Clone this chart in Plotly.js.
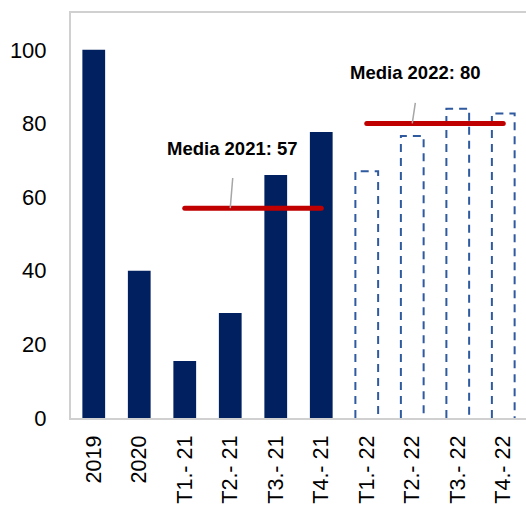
<!DOCTYPE html>
<html>
<head>
<meta charset="utf-8">
<script src="https://cdn.plot.ly/plotly-3.0.1.min.js"></script>
<style>
html,body{margin:0;padding:0;background:#fff;}
#chart{width:526px;height:506px;}
</style>
</head>
<body>
<div id="chart"></div>
<script>
// ---- data ----
const categories = ['2019', '2020', 'T1.- 21', 'T2.- 21', 'T3.- 21', 'T4.- 21', 'T1.- 22', 'T2.- 22', 'T3.- 22', 'T4.- 22'];
const actualCats = ['2019', '2020', 'T1.- 21', 'T2.- 21', 'T3.- 21', 'T4.- 21'];
const actualValues = [100, 40, 15.5, 28.5, 66, 77.7];
const forecastCats = ['T1.- 22', 'T2.- 22', 'T3.- 22', 'T4.- 22'];
const forecastValues = [67, 76.6, 84, 82.7];
const avgLabels = ['Media 2021: 57', 'Media 2022: 80'];
const avgValues = [57, 80];
const avgStart = ['T1.- 21', 'T1.- 22'];
const avgEnd = ['T4.- 21', 'T4.- 22'];
const avgPointer = ['T2.- 21', 'T2.- 22'];
const yTicks = [0, 20, 40, 60, 80, 100];

// ---- style ----
const NAVY = '#002060';
const DASHBLUE = '#2f5aa0';
const RED = '#c00000';
const BAR_W = 0.5;
const FONT = 'Liberation Sans, Arial, sans-serif';
const idx = c => categories.indexOf(c);

const traces = [];
traces.push({
  type: 'bar',
  x: actualCats.map(idx),
  y: actualValues,
  width: BAR_W,
  marker: {color: NAVY, line: {width: 0}},
  hoverinfo: 'skip'
});
forecastCats.forEach((c, k) => {
  const i = idx(c), v = forecastValues[k];
  traces.push({
    type: 'scatter', mode: 'lines',
    x: [i - BAR_W / 2, i - BAR_W / 2, i + BAR_W / 2, i + BAR_W / 2],
    y: [0, v, v, 0],
    line: {color: DASHBLUE, width: 2, dash: '8px,6px'},
    hoverinfo: 'skip'
  });
});
const avgTraceStart = traces.length;
avgValues.forEach((v, k) => {
  traces.push({
    type: 'scatter', mode: 'lines',
    x: [idx(avgStart[k]), idx(avgEnd[k])],
    y: [v, v],
    line: {color: RED, width: 5},
    hoverinfo: 'skip'
  });
});

const leaderOffsets = [[2.6, -31.7], [3.3, -22]];
const textOffsets = [[2.3, 60], [3.3, 51]];
const annotations = [];
avgValues.forEach((v, k) => {
  annotations.push({
    x: idx(avgPointer[k]), y: v, xref: 'x', yref: 'y',
    text: '', showarrow: true, arrowhead: 0, arrowwidth: 1.5, arrowcolor: '#a6a6a6',
    ax: leaderOffsets[k][0], ay: leaderOffsets[k][1], standoff: 0
  });
  annotations.push({
    x: idx(avgPointer[k]), y: v, xref: 'x', yref: 'y',
    text: '<b>' + avgLabels[k] + '</b>', showarrow: false,
    xshift: textOffsets[k][0], yshift: textOffsets[k][1],
    font: {family: FONT, size: 18.5, color: '#000'}
  });
});

const layout = {
  width: 526, height: 506,
  margin: {l: 71, r: 0, t: 13, b: 88},
  paper_bgcolor: '#fff', plot_bgcolor: '#fff',
  showlegend: false,
  font: {family: FONT, color: '#000'},
  xaxis: {
    type: 'linear', range: [-0.5, 9.5],
    tickvals: categories.map((c, i) => i), ticktext: categories,
    tickangle: -90, tickfont: {family: FONT, size: 21.5, color: '#000'},
    ticks: 'outside', ticklen: 7, tickcolor: 'rgba(0,0,0,0)',
    showline: true, linecolor: '#d0d0d0', linewidth: 2, mirror: true,
    showgrid: false, zeroline: false, fixedrange: true
  },
  yaxis: {
    range: [0, 110], tickvals: yTicks,
    tickfont: {family: FONT, size: 22, color: '#000'},
    ticks: 'outside', ticklen: 18, tickcolor: 'rgba(0,0,0,0)',
    showline: true, linecolor: '#d0d0d0', linewidth: 2,
    showgrid: false, zeroline: false, fixedrange: true
  },
  annotations: annotations
};

Plotly.newPlot('chart', traces, layout, {displayModeBar: false, staticPlot: true}).then(() => {
  const tr = document.querySelectorAll('.scatterlayer .trace');
  for (let k = 0; k < avgValues.length; k++) {
    const t = tr[avgTraceStart - 1 + k];
    if (t) t.querySelectorAll('path.js-line').forEach(p => p.style.strokeLinecap = 'round');
  }
});
</script>
</body>
</html>
